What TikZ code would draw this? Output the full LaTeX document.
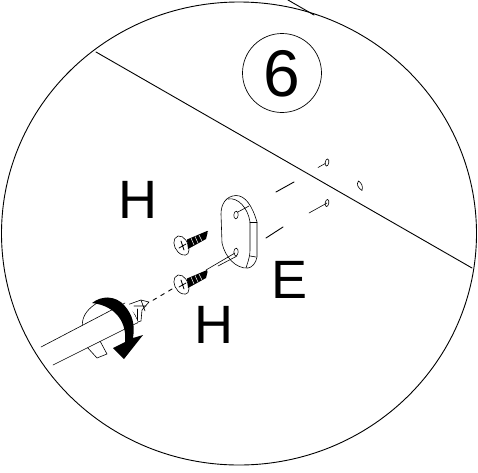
\documentclass[tikz,border=0pt]{standalone}
\usepackage{fontspec}
\setmainfont{Liberation Sans}
\begin{document}
\begin{tikzpicture}[x=1pt,y=-1pt,line cap=round,line join=round,
  thin line/.style={draw=black,line width=0.9pt},
  hair/.style={draw=black,line width=0.6pt},
  letter/.style={font=\fontsize{54}{54}\selectfont,inner sep=0pt,text=black}]
\useasboundingbox (0,0) rectangle (478,472);
\fill[white] (0,0) rectangle (478,472);
% big circle and lines
\draw[thin line] (239,233.5) ellipse [x radius=237.5,y radius=231.5];
\draw[thin line] (96,52) -- (472,268);
\draw[thin line] (288,0) -- (314,15);
% number
\node[draw=black,line width=0.7pt,circle,minimum size=79pt,inner sep=0pt] (num) at (282,73) {};
\node[inner sep=0pt,font=\fontsize{66}{66}\selectfont] (six) at (282,74) {6};
% letters
\node[letter] (h1) at (138,200) {H};
\node[letter] (h2) at (214,325) {H};
\node[letter] (e) at (290,280) {E};
% wall holes
\newcommand{\holeat}[4]{\draw[hair,fill=white,rotate around={-10:(#1,#2)}] (#1,#2) ellipse [x radius=#3,y radius=#4];}
\draw[hair] (318,167.5) -- (327,162.5);
\holeat{327}{162.5}{1.8}{3.6}
\holeat{327}{203}{1.8}{3.6}
\draw[hair] (309,213) -- (327,203);
\draw[hair,fill=white] (358.5,181) .. controls (356,184) and (358,188) .. (362,190.5) .. controls (363.5,186) and (361,182.5) .. (358.5,181) -- cycle;
% dashes
\draw[thin line] (276,192) -- (294,182);
\draw[thin line] (266,238) -- (283,227);
% plate
\draw[hair,fill=white] (221,214) .. controls (221,204) and (226,196) .. (236,195.5) .. controls (245,195.5) and (252,205) .. (257,222) -- (257,257)
 .. controls (256,263) and (252,267.5) .. (248,268) .. controls (236,269) and (225,257) .. (222,243) -- cycle;
\draw[hair] (228,199) .. controls (238,197) and (248,208) .. (250,222) -- (250,250) .. controls (250,258) and (247,264) .. (246,268);
\draw[hair] (250,222) -- (257,222);
\draw[hair] (250,256) -- (256,257);
\draw[hair] (236,213) -- (249,206);
\draw[hair] (237,256) -- (218,266);
\draw[hair,fill=white,rotate around={-5:(236,215)}] (236,215) ellipse [x radius=2.2,y radius=3.8];
\draw[hair,fill=white,rotate around={-5:(236,252)}] (236,252) ellipse [x radius=2.2,y radius=3.8];
\draw[hair] (235,253) -- (206,270);
% screws
\foreach \dy in {0,39} {
\begin{scope}[yshift=\dy*-1pt]
\draw[hair,fill=white] (178,236) .. controls (172,238) and (173,247) .. (178,252) .. controls (183,257) and (189,256) .. (189,250) .. controls (189,243) and (184,235) .. (178,236) -- cycle;
\draw[line width=0.8pt] (181,241) -- (184,250) (179,248) -- (186,244);
\fill[black] (187,239.5) -- (207,231) -- (207.5,233) -- (206,239) -- (188,249) -- cycle;
\draw[white,line width=0.5pt] (191,238) -- (194,245) (195,236.5) -- (198,243) (199,235) -- (202,241);
\end{scope}
}
\draw[hair] (207,232) -- (208,231);
% dashed axis
\coordinate (scr) at (172,289);
\coordinate (tip) at (150,302);
\draw[thin line,dash pattern=on 4pt off 5pt] (scr) -- (tip);
% screwdriver tip
\draw[hair,fill=white] (127,305) -- (141,300) -- (149,302) -- (142,310) -- (141,321) -- (138,322) -- (135,315) -- cycle;
\draw[hair] (141,300) -- (145,311) (146,306) -- (134,306);
\draw[hair] (137,323) -- (137,309);
% strap behind
\draw[hair,fill=white] (88,340) .. controls (74,320) and (88,305) .. (108,298) -- (120,316);
\draw[hair,fill=white] (87,347) -- (97,358) -- (107,354) -- (100,341) -- cycle;
% shaft
\fill[white] (40,348) -- (128,302) -- (138,322) -- (53,365) -- cycle;
\draw[hair] (41,347) -- (125,303);
\draw[hair] (53,365) -- (137,323);
% arrow
\fill[black] (92,303) .. controls (102,295) and (116,296) .. (124,305) .. controls (133,315) and (135,325) .. (133,338) -- (143,335) -- (124,359) -- (113,348) -- (125,342) .. controls (127,325) and (118,306) .. (92,303) -- cycle;
\end{tikzpicture}
\end{document}
